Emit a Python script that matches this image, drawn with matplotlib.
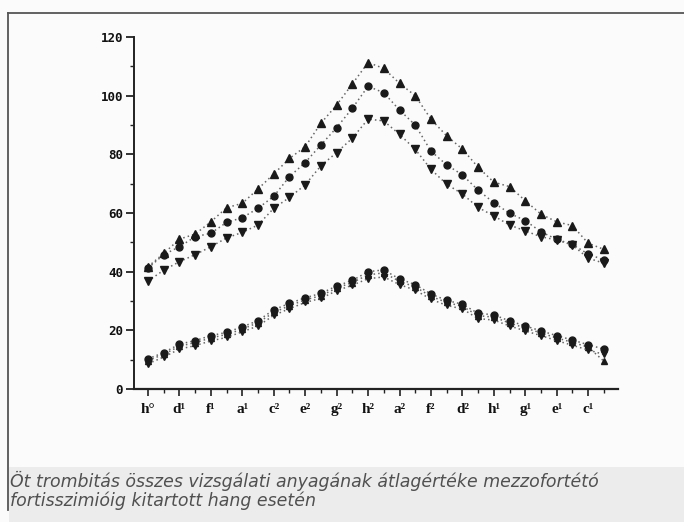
import matplotlib
matplotlib.use("Agg")
import matplotlib.pyplot as plt
from matplotlib.lines import Line2D
from matplotlib.patches import Rectangle

# ---- data -------------------------------------------------------------
x_labels = ["h°", "d¹", "f¹", "a¹", "c²", "e²", "g²", "h²",
            "a²", "f²", "d²", "h¹", "g¹", "e¹", "c¹"]

up_hi = [41.7, 46.2, 51.1, 52.8, 57.0, 61.8, 63.3, 68.2, 73.3, 78.6,
         82.6, 90.6, 96.8, 104.0, 111.3, 109.3, 104.2, 100.0, 92.0, 86.3,
         81.8, 75.6, 70.5, 69.0, 64.2, 59.6, 57.0, 55.7, 49.7, 47.6]
circ_hi = [41.2, 45.8, 48.5, 51.9, 53.1, 56.8, 58.4, 61.6, 65.7, 72.4,
           77.2, 83.2, 89.1, 95.7, 103.2, 101.0, 95.1, 90.0, 81.1, 76.4,
           73.0, 67.8, 63.5, 59.9, 57.4, 53.6, 51.0, 49.3, 46.0, 44.0]
down_hi = [36.8, 40.5, 43.4, 45.8, 48.5, 51.5, 53.4, 55.9, 61.6, 65.3,
           69.6, 76.1, 80.6, 85.5, 92.0, 91.4, 86.8, 81.7, 74.9, 69.8,
           66.5, 61.9, 59.0, 55.9, 53.9, 51.9, 50.8, 49.1, 44.6, 42.9]

circ_lo = [10.3, 12.4, 15.3, 16.5, 18.2, 19.3, 21.2, 23.3, 27.0, 29.2,
           31.1, 32.6, 35.1, 37.0, 40.0, 40.6, 37.5, 35.6, 32.4, 30.2,
           28.9, 25.8, 25.3, 23.2, 21.5, 19.8, 18.2, 16.7, 15.1, 13.6]
up_lo = [9.7, 11.8, 14.6, 15.8, 17.4, 18.6, 20.4, 22.6, 26.1, 28.4,
         30.4, 31.8, 34.4, 36.3, 38.9, 39.6, 36.7, 34.8, 31.6, 29.5,
         28.2, 25.0, 24.5, 22.5, 20.8, 19.1, 17.4, 15.9, 14.3, 9.5]
down_lo = [8.6, 10.9, 13.6, 14.8, 16.4, 17.6, 19.5, 21.5, 25.1, 27.4,
           29.5, 30.9, 33.5, 35.4, 37.6, 38.2, 35.6, 33.7, 30.6, 28.5,
           27.3, 24.0, 23.5, 21.5, 19.8, 18.2, 16.5, 14.9, 13.3, 11.8]

y_ticks = [0, 20, 40, 60, 80, 100, 120]

caption1 = "Öt trombitás összes vizsgálati anyagának átlagértéke mezzofortétó"
caption2 = "fortisszimióig kitartott hang esetén"

# ---- figure -----------------------------------------------------------
W, H = 684, 522
fig = plt.figure(figsize=(W / 100, H / 100), dpi=100)
fig.patch.set_facecolor("#fbfbfb")

# caption band
fig.add_artist(Rectangle((9 / W, 0), 1, (H - 467) / H, transform=fig.transFigure,
                         facecolor="#ececec", edgecolor="none", zorder=0))
# frame lines
fig.add_artist(Line2D([8 / W, 1], [1 - 13 / H, 1 - 13 / H], transform=fig.transFigure,
                      color="#555555", lw=1.3))
fig.add_artist(Line2D([8 / W, 8 / W], [1 - 13 / H, 1 - 510 / H], transform=fig.transFigure,
                      color="#555555", lw=1.3))

ax = fig.add_axes([134 / W, (H - 389) / H, (618 - 134) / W, (389 - 37) / H])
ax.set_facecolor("none")

n = len(up_hi)
xs = list(range(n))

line_kw = dict(color="#666666", linestyle=(0, (1, 2)), linewidth=1.1,
               markerfacecolor="#1a1a1a", markeredgecolor="#1a1a1a")

for ys, mk, ms in [(up_hi, "^", 5.5), (circ_hi, "o", 5.0), (down_hi, "v", 5.5),
                   (up_lo, "^", 5.0), (circ_lo, "o", 5.0), (down_lo, "v", 5.0)]:
    ax.plot(xs, ys, marker=mk, markersize=ms, **line_kw)

ax.set_xlim(-0.89, 29.9)
ax.set_ylim(0, 120)

for s in ["top", "right"]:
    ax.spines[s].set_visible(False)
ax.spines["left"].set_color("#222222")
ax.spines["bottom"].set_color("#222222")
ax.spines["left"].set_linewidth(1.4)
ax.spines["bottom"].set_linewidth(1.6)

ax.set_yticks(y_ticks)
ax.set_yticklabels([str(v) for v in y_ticks], fontfamily="DejaVu Sans Mono",
                   fontweight="bold", fontsize=9, color="#111111")
ax.set_yticks([10, 30, 50, 70, 90, 110], minor=True)
ax.tick_params(axis="y", which="major", length=6, width=1.3, pad=2, color="#222222")
ax.tick_params(axis="y", which="minor", length=3, width=1.0, color="#222222")

ax.set_xticks(list(range(0, 30, 2)))
ax.set_xticklabels(x_labels, fontfamily="Liberation Serif", fontweight="bold",
                   fontsize=11, color="#111111")
ax.set_xticks(list(range(1, 30, 2)), minor=True)
ax.tick_params(axis="x", which="major", length=5, width=1.2, pad=5, color="#222222")
ax.tick_params(axis="x", which="minor", length=3, width=1.0, color="#222222")

fig.text(10 / W, 1 - 481 / H, caption1, fontstyle="italic", fontfamily="DejaVu Sans",
         fontsize=12.5, color="#505050", va="center", ha="left")
fig.text(10 / W, 1 - 501 / H, caption2, fontstyle="italic", fontfamily="DejaVu Sans",
         fontsize=12.5, color="#505050", va="center", ha="left")

fig.savefig("out.png", dpi=100, facecolor=fig.get_facecolor())
